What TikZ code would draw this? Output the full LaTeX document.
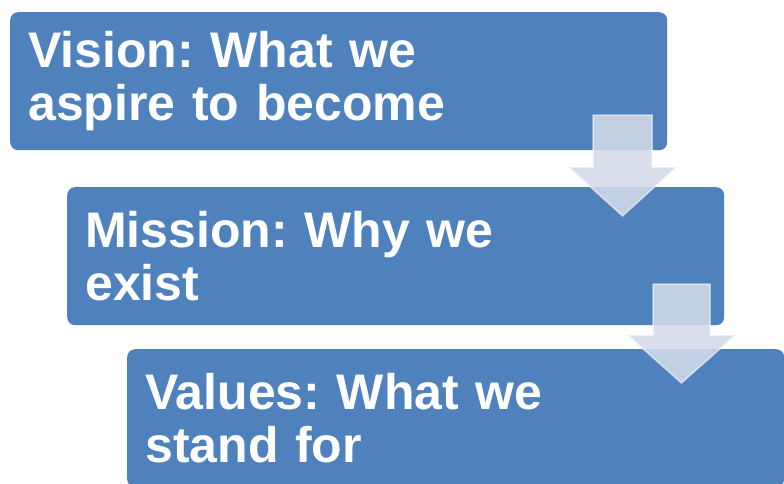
\documentclass[tikz,border=0pt]{standalone}
\usepackage{fontspec}
\setmainfont{Liberation Sans}
\usepackage{tikz}
\usetikzlibrary{positioning}
\frenchspacing
\definecolor{boxblue}{HTML}{4F81BD}
\definecolor{arrowfill}{RGB}{212,218,233}
\tikzstyle{stage} = [rectangle, fill=boxblue, rounded corners=8pt, anchor=north west,
minimum width=657pt, minimum height=138pt, text width=621pt, inner xsep=18pt, inner ysep=0pt,
align=left, text=white, font=\fontsize{50}{53}\selectfont\bfseries]
\tikzstyle{flow} = [fill=arrowfill, fill opacity=0.88, draw=white, draw opacity=0.55, line width=1.5pt]
\begin{document}
\begin{tikzpicture}[x=1pt, y=-1pt]
			\useasboundingbox (0,0) rectangle (784,483);
			\node [stage] (vision) at (10,12) {Vision: What we\\aspire to become};
			\node [stage] (mission) at (67,187) {Mission: Why we\\exist};
			\node [stage] (values) at (127,349) {Values: What we\\stand for};
			\coordinate (top1) at (622.5,115);
			\coordinate (top2) at (681.5,284);
			\path [flow] (top1) ++(-29.5,0) -- ++(59,0) -- ++(0,52) -- ++(24.5,0) -- ++(-54,49)
			-- ++(-54,-49) -- ++(24.5,0) -- cycle;
			\path [flow] (top2) ++(-28.5,0) -- ++(57,0) -- ++(0,51) -- ++(25.5,0) -- ++(-54,48)
			-- ++(-54,-48) -- ++(25.5,0) -- cycle;
		\end{tikzpicture}
\end{document}
